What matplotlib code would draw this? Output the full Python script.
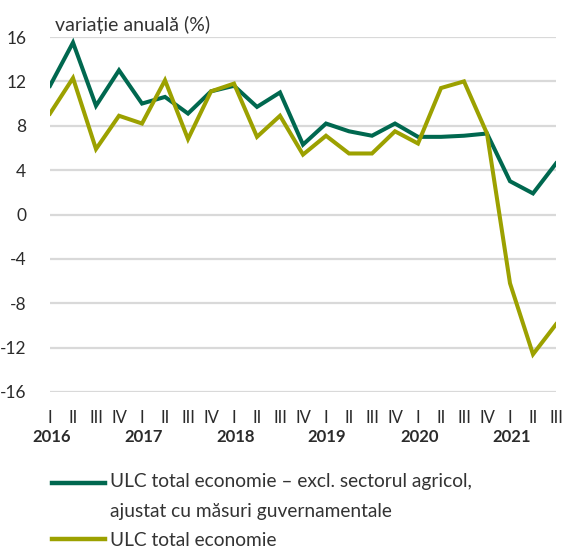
import numpy as np
import matplotlib.pyplot as plt
from matplotlib.lines import Line2D

# quarterly data, 2016 Q1 - 2021 Q3
quarters = ["I", "II", "III", "IV"] * 5 + ["I", "II", "III"]
years = ["2016", "2017", "2018", "2019", "2020", "2021"]

ulc_excl_agri = [11.6, 15.5, 9.8, 13.0, 10.0, 10.6, 9.1, 11.1, 11.6, 9.7, 11.0,
                 6.3, 8.2, 7.5, 7.1, 8.2, 7.0, 7.0, 7.1, 7.3, 3.0, 1.9, 4.6]
ulc_total = [9.1, 12.3, 5.9, 8.9, 8.2, 12.1, 6.8, 11.1, 11.8, 7.0, 8.9,
             5.4, 7.1, 5.5, 5.5, 7.5, 6.4, 11.4, 12.0, 7.3, -6.2, -12.6, -9.9]
labels = ["ULC total economie – excl. sectorul agricol,\najustat cu măsuri guvernamentale",
          "ULC total economie"]

green = "#00684f"
olive = "#9ca100"
txt = "#2b2b2b"

plt.rcParams['font.family'] = ['Lato', 'DejaVu Sans']

fig = plt.figure(figsize=(5.68, 5.49), dpi=100)
ax = fig.add_axes([50 / 568, 1 - 392 / 549, 506 / 568, 355 / 549])

x = np.arange(len(quarters))
ax.plot(x, ulc_excl_agri, color=green, lw=2.9, solid_joinstyle='miter')
ax.plot(x, ulc_total, color=olive, lw=2.9, solid_joinstyle='miter')

ax.set_xlim(0, len(quarters) - 1)
ax.set_ylim(-16, 16)
ax.set_yticks(np.arange(-16, 17, 4))
ax.set_yticklabels([str(v) for v in range(-16, 17, 4)], fontsize=12.5, color=txt)
ax.grid(axis='y', color="#d9d9d9", lw=1.6)
ax.set_axisbelow(True)
for s in ax.spines.values():
    s.set_visible(False)
ax.tick_params(axis='y', length=0, pad=17)

ax.set_xticks(x)
ax.set_xticklabels(quarters, fontsize=12, color=txt)
ax.tick_params(axis='x', length=0, pad=13)

# year labels under each first quarter
for i, yr in enumerate(years):
    ax.text(4 * i + 0.05, -0.128, yr, transform=ax.get_xaxis_transform(), ha='center',
            va='center', fontsize=12, fontweight='bold', color=txt)

fig.text(55 / 568, 1 - 25 / 549, "variație anuală (%)", fontsize=14, color="#333333",
         va='center', ha='left')

# legend, handle next to the first text line
for (yl, ty, lab, col) in zip([483, 539], [473, 532], labels, [green, olive]):
    fig.add_artist(Line2D([52 / 568, 105 / 568], [1 - yl / 549] * 2, color=col, lw=3.2,
                          transform=fig.transFigure))
    fig.text(110 / 568, 1 - ty / 549, lab, fontsize=13.8, color="#333333",
             va='top', ha='left', linespacing=1.9)

fig.savefig("out.png", dpi=100)
